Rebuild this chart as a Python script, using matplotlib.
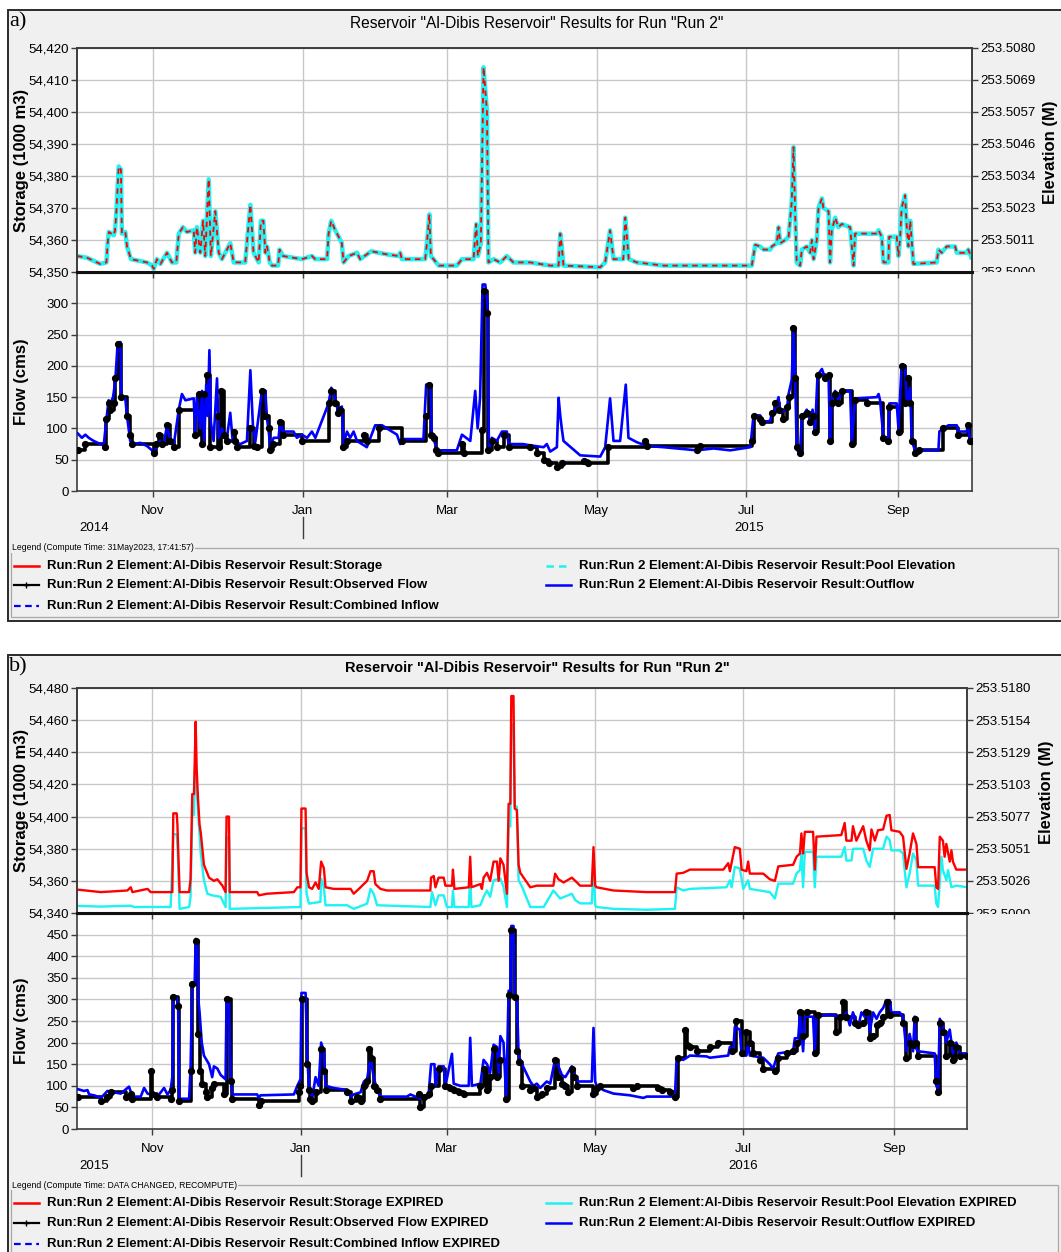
import matplotlib.pyplot as plt
import matplotlib.dates as mdates
import matplotlib.transforms as mtransforms
import numpy as np
from matplotlib import font_manager
from matplotlib.lines import Line2D
from matplotlib.patches import Rectangle

W, H = 1061, 1252
PANEL_BG = "#f0f0f0"
GRID = "#c8c8c8"
SPINE = "#3c3c3c"
RED, CYAN, BLUE = "#ff0000", "#1ef2f2", "#0000ff"

_names = {f.name for f in font_manager.fontManager.ttflist}
LEG_FONT = "Liberation Sans Narrow" if "Liberation Sans Narrow" in _names else "Liberation Sans"
plt.rcParams["font.family"] = "Liberation Sans"

# ---------------------------------------------------------------- panel a
# (days since 2014-10-01, value)
A_STORAGE = [
    (0, 54355), (4, 54354.5), (9.5, 54352.5), (12, 54353), (12.5, 54359), (13, 54362.5), (15, 54361.5),
    (15.5, 54363), (16, 54368), (17, 54383), (17.9, 54382), (18.3, 54362), (19.7, 54362.5), (20.4, 54358),
    (22, 54354), (28.5, 54353), (30.6, 54352), (31.3, 54351), (32.6, 54354), (34, 54352.5), (36.7, 54356),
    (38.7, 54353), (40.5, 54353), (41.5, 54362), (43.2, 54364), (44.8, 54362.5), (47.6, 54363), (48.2, 54356),
    (48.9, 54364), (50.3, 54356), (51.4, 54366), (52.3, 54355), (53.7, 54379), (54.6, 54355), (56.4, 54369),
    (57.8, 54356), (59.1, 54354), (62.5, 54359), (63.9, 54353), (68.6, 54353), (70.7, 54371), (72, 54356),
    (74.1, 54353), (75, 54366), (76, 54366), (76.8, 54356), (77.5, 54358), (78.6, 54353), (79.5, 54352),
    (82, 54352), (82.6, 54357), (84, 54355), (91.7, 54354), (95.8, 54355), (97.2, 54354), (102, 54354),
    (102.6, 54362), (103.7, 54366), (105.3, 54363), (106.7, 54361), (108, 54359), (108.7, 54353), (110.8, 54355),
    (114.2, 54356), (115.5, 54354), (120, 54356.5), (126.4, 54355.5), (131.1, 54355), (131.8, 54356),
    (132.5, 54354), (142, 54354), (142.7, 54359), (143.7, 54368), (144.3, 54355), (145.4, 54354),
    (147.5, 54352), (154.9, 54352), (157, 54354), (161.7, 54354), (162.8, 54365), (163.5, 54355),
    (164.7, 54359), (165.8, 54414), (167.2, 54400), (167.8, 54353), (169.9, 54354), (172.6, 54353),
    (175.3, 54355), (178, 54353), (184.8, 54353), (193, 54352), (196.4, 54352), (197.1, 54362), (197.7, 54358),
    (198.4, 54352), (213.4, 54351.5), (215.4, 54353), (217.4, 54363), (218.8, 54354), (222.8, 54354),
    (223.6, 54367), (225, 54354), (228.3, 54353), (239.2, 54352), (275.2, 54352), (276.6, 54358.5),
    (278.6, 54358), (280, 54357), (282.7, 54357), (283.4, 54358), (285.4, 54359), (286.1, 54364), (286.8, 54359),
    (288.8, 54360), (290.2, 54361), (291.5, 54372), (292.2, 54389), (292.9, 54368), (293.5, 54353),
    (294.9, 54352), (295.6, 54357), (297.6, 54358), (299, 54356), (299.7, 54360), (300.4, 54354), (301.7, 54360),
    (302.4, 54370), (303.8, 54373), (304.4, 54370), (306.5, 54369), (307.1, 54353), (307.8, 54363),
    (309.2, 54367), (310.5, 54364), (311.9, 54365), (315.3, 54364), (316.7, 54352), (317.3, 54362),
    (326.2, 54362), (326.9, 54363), (328.2, 54361), (328.9, 54353), (330.9, 54353), (331.2, 54361),
    (334.3, 54361), (335, 54355), (335.7, 54361), (336.3, 54370), (337.7, 54374), (338.4, 54364), (339.1, 54358),
    (339.8, 54366), (340.4, 54360), (341.1, 54352.5), (350.6, 54353), (351.3, 54357), (352.6, 54356),
    (354.7, 54358), (358.1, 54358), (358.8, 54356), (362.8, 54356), (363.5, 54357), (365, 54354),
]
A_ELEVATION = [
    (0, 253.50057), (4, 253.50051), (9.5, 253.50029), (12, 253.50034), (12.5, 253.50103), (13, 253.50143),
    (15, 253.50131), (15.5, 253.50149), (16, 253.50206), (17, 253.50377), (17.9, 253.50366), (18.3, 253.50137),
    (19.7, 253.50143), (20.4, 253.50091), (22, 253.50046), (28.5, 253.50034), (30.6, 253.50023),
    (31.3, 253.50011), (32.6, 253.50046), (34, 253.50029), (36.7, 253.50069), (38.7, 253.50034),
    (40.5, 253.50034), (41.5, 253.50137), (43.2, 253.50160), (44.8, 253.50143), (47.6, 253.50149),
    (48.2, 253.50069), (48.9, 253.50160), (50.3, 253.50069), (51.4, 253.50183), (52.3, 253.50057),
    (53.7, 253.50331), (54.6, 253.50057), (56.4, 253.50217), (57.8, 253.50069), (59.1, 253.50046),
    (62.5, 253.50103), (63.9, 253.50034), (68.6, 253.50034), (70.7, 253.50240), (72, 253.50069),
    (74.1, 253.50034), (75, 253.50183), (76, 253.50183), (76.8, 253.50069), (77.5, 253.50091), (78.6, 253.50034),
    (79.5, 253.50023), (82, 253.50023), (82.6, 253.50080), (84, 253.50057), (91.7, 253.50046), (95.8, 253.50057),
    (97.2, 253.50046), (102, 253.50046), (102.6, 253.50137), (103.7, 253.50183), (105.3, 253.50149),
    (106.7, 253.50126), (108, 253.50103), (108.7, 253.50034), (110.8, 253.50057), (114.2, 253.50069),
    (115.5, 253.50046), (120, 253.50074), (126.4, 253.50063), (131.1, 253.50057), (131.8, 253.50069),
    (132.5, 253.50046), (142, 253.50046), (142.7, 253.50103), (143.7, 253.50206), (144.3, 253.50057),
    (145.4, 253.50046), (147.5, 253.50023), (154.9, 253.50023), (157, 253.50046), (161.7, 253.50046),
    (162.8, 253.50171), (163.5, 253.50057), (164.7, 253.50103), (165.8, 253.50731), (167.2, 253.50571),
    (167.8, 253.50034), (169.9, 253.50046), (172.6, 253.50034), (175.3, 253.50057), (178, 253.50034),
    (184.8, 253.50034), (193, 253.50023), (196.4, 253.50023), (197.1, 253.50137), (197.7, 253.50091),
    (198.4, 253.50023), (213.4, 253.50017), (215.4, 253.50034), (217.4, 253.50149), (218.8, 253.50046),
    (222.8, 253.50046), (223.6, 253.50194), (225, 253.50046), (228.3, 253.50034), (239.2, 253.50023),
    (275.2, 253.50023), (276.6, 253.50097), (278.6, 253.50091), (280, 253.50080), (282.7, 253.50080),
    (283.4, 253.50091), (285.4, 253.50103), (286.1, 253.50160), (286.8, 253.50103), (288.8, 253.50114),
    (290.2, 253.50126), (291.5, 253.50251), (292.2, 253.50446), (292.9, 253.50206), (293.5, 253.50034),
    (294.9, 253.50023), (295.6, 253.50080), (297.6, 253.50091), (299, 253.50069), (299.7, 253.50114),
    (300.4, 253.50046), (301.7, 253.50114), (302.4, 253.50229), (303.8, 253.50263), (304.4, 253.50229),
    (306.5, 253.50217), (307.1, 253.50034), (307.8, 253.50149), (309.2, 253.50194), (310.5, 253.50160),
    (311.9, 253.50171), (315.3, 253.50160), (316.7, 253.50023), (317.3, 253.50137), (326.2, 253.50137),
    (326.9, 253.50149), (328.2, 253.50126), (328.9, 253.50034), (330.9, 253.50034), (331.2, 253.50126),
    (334.3, 253.50126), (335, 253.50057), (335.7, 253.50126), (336.3, 253.50229), (337.7, 253.50274),
    (338.4, 253.50160), (339.1, 253.50091), (339.8, 253.50183), (340.4, 253.50114), (341.1, 253.50029),
    (350.6, 253.50034), (351.3, 253.50080), (352.6, 253.50069), (354.7, 253.50091), (358.1, 253.50091),
    (358.8, 253.50069), (362.8, 253.50069), (363.5, 253.50080), (365, 253.50046),
]
A_OBSERVED = [
    (0.3, 65), (3.4, 75), (11.6, 70), (12.0, 115), (12.9, 140), (13.6, 130), (14.9, 140), (15.6, 180), (16.6, 235),
    (18.1, 150), (20.4, 120), (21.7, 90), (22.4, 75), (31.3, 60), (32.3, 75), (33.3, 90), (34.7, 75), (36.7, 105),
    (38.1, 80), (39.4, 70), (41.5, 130), (48.2, 90), (49.6, 155), (51.0, 75), (51.9, 155), (53.0, 185), (54.4, 70),
    (57.4, 120), (58.0, 70), (58.7, 160), (59.8, 90), (61.2, 80), (63.9, 95), (64.6, 80), (65.2, 70), (70.7, 100),
    (72.0, 72), (73.4, 70), (75.4, 160), (76.8, 120), (78.2, 100), (78.8, 65), (79.9, 75), (82.9, 110), (84.0, 90),
    (91.7, 80), (102.6, 140), (103.7, 160), (105.1, 140), (106.3, 125), (107.4, 130), (108.5, 70), (110.1, 80),
    (116.9, 90), (118.2, 80), (123.0, 100), (132.5, 80), (142.4, 120), (143.4, 170), (144.3, 90), (145.4, 85),
    (146.5, 65), (147.1, 60), (157.0, 75), (157.7, 60), (165.1, 97), (165.8, 320), (167.2, 285), (167.8, 65),
    (169.2, 80), (171.2, 70), (174.0, 90), (176.0, 70), (184.8, 70), (187.6, 60), (190.3, 50), (192.3, 45),
    (195.7, 38), (197.7, 45), (206.6, 48), (208.6, 45), (216.4, 70), (231.7, 80), (232.4, 72), (252.8, 65),
    (254.1, 72), (275.2, 80), (275.9, 120), (278.6, 115), (279.3, 110), (283.4, 125), (284.7, 140), (286.1, 130),
    (288.1, 115), (289.5, 135), (290.2, 150), (292.2, 260), (292.9, 180), (293.5, 70), (294.9, 60), (295.6, 120),
    (297.6, 125), (299.0, 110), (300.0, 120), (301.0, 95), (302.0, 185), (305.1, 180), (306.5, 185), (306.9, 80),
    (307.8, 140), (309.2, 155), (310.5, 140), (311.9, 160), (316.0, 75), (317.3, 145), (322.0, 140), (328.9, 85),
    (330.9, 80), (331.3, 135), (335.3, 95), (336.3, 200), (337.7, 140), (339.1, 180), (339.8, 140), (340.4, 80),
    (341.8, 60), (343.2, 65), (353.3, 100), (359.4, 90), (363.5, 105), (364.2, 80), (365, 80),
]
A_OUTFLOW = [
    (0.3, 92), (2.0, 85), (3.4, 90), (4.8, 85), (6.8, 80), (9.5, 75), (10.9, 73), (12.0, 115), (12.9, 145),
    (13.6, 140), (14.7, 150), (15.6, 175), (16.6, 237), (17.7, 238), (18.1, 150), (19.7, 148), (20.4, 120),
    (21.7, 80), (23.1, 75), (25.8, 77), (28.5, 72), (30.6, 65), (31.3, 58), (32.6, 75), (34.0, 80), (35.3, 72),
    (36.7, 105), (38.1, 80), (39.4, 72), (41.5, 130), (42.8, 155), (44.2, 145), (47.6, 148), (48.2, 95),
    (48.9, 150), (50.3, 100), (51.0, 160), (51.9, 80), (52.7, 170), (53.3, 120), (54.0, 225), (54.6, 110),
    (55.7, 80), (57.1, 180), (57.8, 85), (59.1, 100), (60.9, 78), (62.5, 125), (63.5, 80), (66.6, 75), (69.3, 80),
    (70.7, 193), (71.8, 100), (72.7, 78), (75.4, 160), (76.8, 160), (77.5, 115), (78.2, 95), (78.8, 72),
    (80.2, 85), (82.2, 85), (82.9, 112), (84.0, 95), (88.3, 95), (89.7, 85), (91.7, 90), (93.8, 85), (95.8, 95),
    (97.2, 85), (102.6, 140), (103.7, 165), (105.1, 150), (106.3, 130), (108.0, 135), (108.7, 75), (110.1, 95),
    (111.4, 85), (112.8, 95), (114.2, 80), (118.2, 70), (121.6, 105), (124.4, 105), (126.4, 100), (130.5, 90),
    (131.8, 75), (132.5, 83), (141.3, 83), (142.4, 170), (144.1, 172), (144.7, 90), (146.1, 75), (147.1, 65),
    (154.9, 65), (157.0, 90), (160.4, 80), (162.4, 160), (163.4, 100), (164.4, 150), (165.4, 330), (166.5, 330),
    (167.4, 300), (168.0, 65), (169.2, 85), (171.2, 80), (173.3, 95), (175.3, 95), (176.0, 75), (181.8, 75),
    (184.8, 73), (190.3, 70), (191.6, 75), (193.0, 63), (195.7, 70), (196.4, 149), (197.1, 120), (197.7, 100),
    (198.4, 80), (205.2, 57), (213.4, 55), (215.4, 70), (217.4, 148), (218.8, 80), (221.5, 80), (223.8, 170),
    (224.9, 85), (228.3, 78), (232.4, 72), (239.2, 70), (252.8, 65), (259.6, 68), (266.4, 65), (274.6, 70),
    (275.9, 121), (278.6, 120), (279.3, 110), (282.7, 112), (283.4, 125), (284.7, 130), (286.1, 150), (286.8, 125),
    (289.5, 130), (290.2, 155), (291.5, 178), (292.2, 260), (292.9, 180), (293.5, 68), (294.2, 62), (294.9, 62),
    (295.6, 120), (296.9, 125), (297.6, 130), (299.0, 115), (300.0, 130), (301.0, 95), (302.0, 185), (303.8, 195),
    (305.1, 180), (306.5, 185), (307.1, 80), (307.8, 145), (309.2, 160), (310.5, 145), (311.9, 160), (315.3, 160),
    (316.0, 75), (317.3, 148), (326.2, 150), (326.9, 155), (327.5, 145), (328.9, 85), (330.9, 85), (331.3, 140),
    (334.3, 140), (335.0, 100), (336.3, 200), (337.7, 200), (338.4, 140), (339.8, 165), (340.4, 80), (341.8, 65),
    (351.3, 65), (351.7, 95), (353.3, 100), (355.4, 105), (358.8, 105), (359.4, 95), (362.8, 95), (363.5, 105),
    (364.2, 80), (365, 80),
]

# ---------------------------------------------------------------- panel b
# (days since 2015-10-01, value)
B_STORAGE = [
    (0.5, 54354.5), (9.8, 54353), (20.7, 54354), (22.1, 54356), (22.8, 54353), (29.0, 54355), (30.3, 54353),
    (39.2, 54353), (39.6, 54402), (41.0, 54402), (41.3, 54395), (41.6, 54380), (42.2, 54353), (46.1, 54353),
    (46.7, 54361), (47.4, 54414), (48.1, 54414), (48.8, 54459), (49.2, 54430), (49.8, 54410), (50.4, 54395),
    (50.9, 54390), (52.2, 54370), (54.3, 54362), (56.3, 54360), (57.7, 54361), (59.8, 54357), (61.1, 54353),
    (61.5, 54400), (62.5, 54400), (62.8, 54353), (74.1, 54353), (74.8, 54351), (78.2, 54352), (89.2, 54353),
    (90.6, 54356), (91.9, 54356), (92.3, 54405), (94.0, 54405), (94.4, 54365), (95.4, 54356), (96.7, 54355),
    (98.1, 54359), (99.4, 54355), (100.4, 54372), (101.5, 54368), (102.2, 54356), (105.6, 54355), (112.5, 54355),
    (113.8, 54352), (116.6, 54356), (119.3, 54360), (120.7, 54366), (122.0, 54366), (122.7, 54358),
    (124.8, 54355), (127.5, 54354), (145.3, 54354), (145.6, 54362), (146.7, 54363), (147.4, 54356),
    (148.7, 54362), (150.8, 54362), (151.5, 54357), (154.2, 54357), (154.6, 54367), (155.2, 54355),
    (161.1, 54356), (161.7, 54375), (162.2, 54356), (165.9, 54358), (166.5, 54355), (167.2, 54362),
    (168.6, 54365), (169.9, 54360), (171.3, 54372), (172.7, 54372), (173.4, 54360), (174.1, 54374),
    (175.4, 54370), (176.8, 54352), (177.5, 54408), (178.2, 54408), (178.6, 54475), (179.5, 54475),
    (180.0, 54405), (180.9, 54404), (181.6, 54370), (182.3, 54365), (186.4, 54356), (189.1, 54357),
    (195.9, 54357), (196.6, 54364.5), (198.0, 54361), (200.1, 54359), (203.5, 54362), (205.6, 54359),
    (206.9, 54357), (211.7, 54357), (212.4, 54381), (213.1, 54357), (213.7, 54356), (220.6, 54354),
    (234.3, 54353), (245.9, 54353), (246.6, 54364.5), (249.3, 54365), (252.1, 54367), (265.8, 54367),
    (267.8, 54371), (268.5, 54366), (270.5, 54381), (272.6, 54380), (273.3, 54367), (275.3, 54366),
    (276.0, 54372), (276.7, 54364.5), (282.2, 54364.5), (284.9, 54361), (287.0, 54360), (288.4, 54369),
    (294.5, 54370), (295.9, 54375), (297.3, 54377), (297.9, 54389.5), (298.6, 54377), (299.3, 54390.5),
    (302.7, 54390.5), (303.4, 54367), (304.1, 54387.5), (314.3, 54388.5), (315.7, 54396), (316.4, 54385),
    (318.5, 54385), (319.1, 54394), (320.5, 54385), (323.3, 54394), (324.6, 54385), (326.0, 54379),
    (326.7, 54392), (328.1, 54385), (329.4, 54391.5), (331.5, 54392), (332.9, 54400.5), (334.2, 54401),
    (334.9, 54391.5), (338.3, 54390.5), (339.7, 54387.5), (341.1, 54367.5), (342.4, 54377), (343.8, 54389.5),
    (345.2, 54383), (345.9, 54368.5), (352.7, 54368.5), (353.4, 54356), (354.1, 54355), (354.8, 54387.5),
    (356.1, 54385), (356.8, 54375), (357.5, 54383), (358.9, 54372), (359.6, 54379), (360.2, 54372),
    (361.6, 54367), (366, 54367),
]
B_ELEVATION = [
    (0.5, 253.50057), (9.8, 253.50051), (20.7, 253.50058), (22.1, 253.50058), (23.5, 253.50048),
    (38.5, 253.50048), (39.6, 253.50630), (41.0, 253.50630), (41.3, 253.50553), (42.2, 253.50033),
    (46.1, 253.50048), (46.7, 253.50129), (47.4, 253.50784), (48.1, 253.50784), (48.8, 253.51320),
    (49.2, 253.51012), (49.8, 253.50797), (50.9, 253.50476), (52.2, 253.50262), (53.6, 253.50154),
    (55.6, 253.50141), (59.1, 253.50129), (61.1, 253.50048), (61.5, 253.50604), (62.5, 253.50604),
    (62.8, 253.50033), (91.9, 253.50048), (92.3, 253.50678), (94.0, 253.50678), (94.4, 253.50154),
    (95.4, 253.50075), (100.1, 253.50089), (100.4, 253.50276), (101.5, 253.50210), (102.2, 253.50062),
    (111.1, 253.50062), (113.8, 253.50033), (119.3, 253.50075), (120.7, 253.50193), (122.0, 253.50154),
    (123.4, 253.50062), (145.3, 253.50048), (146.0, 253.50167), (147.4, 253.50062), (148.7, 253.50141),
    (150.8, 253.50141), (152.1, 253.50048), (154.2, 253.50048), (154.6, 253.50180), (155.2, 253.50048),
    (161.1, 253.50048), (161.7, 253.50296), (162.2, 253.50048), (165.9, 253.50062), (167.2, 253.50129),
    (168.6, 253.50180), (169.9, 253.50129), (171.3, 253.50262), (174.1, 253.50276), (175.4, 253.50210),
    (176.8, 253.50048), (177.5, 253.50692), (178.2, 253.50692), (178.6, 253.51508), (179.5, 253.51508),
    (180.0, 253.50861), (180.9, 253.50849), (181.6, 253.50262), (183.0, 253.50210), (186.4, 253.50048),
    (191.9, 253.50048), (195.9, 253.50180), (198.7, 253.50116), (203.5, 253.50154), (204.9, 253.50103),
    (206.9, 253.50077), (211.7, 253.50077), (212.4, 253.50369), (213.1, 253.50062), (213.7, 253.50048),
    (220.6, 253.50033), (234.3, 253.50026), (245.9, 253.50033), (246.6, 253.50206), (249.3, 253.50180),
    (252.1, 253.50193), (267.1, 253.50206), (268.5, 253.50262), (269.2, 253.50206), (270.5, 253.50369),
    (272.6, 253.50356), (274.0, 253.50193), (276.0, 253.50262), (276.7, 253.50193), (284.9, 253.50167),
    (287.0, 253.50116), (288.4, 253.50235), (294.5, 253.50235), (295.9, 253.50316), (297.3, 253.50343),
    (297.9, 253.50476), (298.6, 253.50206), (299.3, 253.50489), (302.7, 253.50489), (303.4, 253.50206),
    (304.1, 253.50450), (314.3, 253.50450), (315.7, 253.50527), (316.4, 253.50420), (318.5, 253.50420),
    (319.1, 253.50514), (323.3, 253.50514), (324.6, 253.50420), (326.0, 253.50369), (327.4, 253.50514),
    (331.5, 253.50514), (332.9, 253.50611), (334.2, 253.50584), (334.9, 253.50501), (338.3, 253.50501),
    (339.7, 253.50476), (341.1, 253.50206), (342.4, 253.50316), (343.8, 253.50476), (345.2, 253.50420),
    (345.9, 253.50219), (352.7, 253.50219), (353.4, 253.50075), (354.1, 253.50048), (355.5, 253.50450),
    (356.1, 253.50343), (357.5, 253.50262), (358.2, 253.50343), (359.6, 253.50206), (361.6, 253.50219),
    (366, 253.50206),
]
B_OBSERVED = [
    (0.5, 75), (9.8, 65), (12.5, 75), (13.9, 85), (20.1, 75), (22.1, 80), (22.8, 70), (30.3, 135), (31.0, 80),
    (33.1, 75), (38.5, 70), (39.2, 90), (39.6, 305), (41.6, 285), (42.0, 65), (46.7, 135), (47.4, 335),
    (48.8, 435), (49.9, 220), (50.6, 135), (51.5, 105), (52.9, 85), (53.6, 75), (55.6, 95), (56.3, 105),
    (60.4, 80), (61.5, 300), (63.2, 110), (63.9, 70), (74.8, 55), (75.5, 65), (91.3, 85), (91.9, 100),
    (92.6, 300), (94.7, 150), (95.4, 90), (96.0, 70), (96.7, 65), (98.1, 85), (100.4, 185), (101.5, 135),
    (102.2, 90), (111.1, 85), (112.5, 65), (115.2, 75), (116.6, 65), (118.0, 100), (119.3, 110), (120.0, 185),
    (121.0, 165), (122.0, 100), (123.4, 90), (124.8, 70), (140.5, 80), (141.2, 50), (142.6, 75), (144.6, 80),
    (145.6, 100), (148.7, 140), (151.5, 100), (153.5, 95), (154.9, 90), (156.9, 85), (159.0, 80), (165.9, 100),
    (167.2, 140), (168.6, 90), (169.9, 120), (171.3, 185), (172.7, 120), (174.1, 160), (176.5, 70), (177.5, 310),
    (178.6, 460), (180.0, 305), (180.9, 180), (181.6, 155), (183.0, 100), (186.4, 90), (187.7, 95), (189.1, 75),
    (191.2, 80), (193.2, 95), (196.6, 160), (198.0, 120), (199.4, 105), (200.8, 100), (202.1, 85), (203.5, 140),
    (204.2, 120), (205.6, 100), (212.4, 80), (213.7, 95), (215.1, 100), (228.8, 95), (230.2, 100), (239.1, 95),
    (240.4, 90), (243.9, 85), (245.9, 75), (247.3, 165), (250.0, 230), (250.7, 195), (252.1, 190), (254.8, 180),
    (260.3, 190), (263.7, 200), (269.2, 180), (271.2, 250), (273.3, 175), (275.3, 225), (276.7, 200),
    (278.1, 175), (280.8, 160), (282.2, 140), (287.0, 135), (288.4, 165), (291.8, 175), (294.5, 180),
    (295.9, 200), (297.3, 270), (298.6, 215), (300.0, 270), (303.4, 175), (304.8, 265), (312.3, 225),
    (313.7, 260), (315.0, 295), (316.4, 260), (319.8, 245), (321.2, 240), (323.3, 245), (324.6, 270),
    (326.0, 210), (327.4, 215), (328.8, 240), (330.1, 245), (331.5, 260), (332.9, 295), (334.2, 265),
    (339.7, 245), (341.1, 165), (342.4, 200), (343.8, 195), (344.5, 255), (345.2, 200), (345.9, 170),
    (353.4, 110), (354.1, 85), (354.8, 245), (356.1, 225), (357.5, 170), (358.9, 200), (360.2, 160),
    (361.6, 190), (363.0, 170), (366, 170),
]
B_OUTFLOW = [
    (0.5, 92), (2.9, 88), (4.3, 90), (5.0, 80), (7.0, 78), (9.8, 72), (11.2, 80), (12.5, 88), (15.3, 85),
    (18.0, 82), (21.4, 98), (22.8, 75), (26.2, 75), (27.6, 95), (29.0, 82), (30.3, 80), (33.1, 75), (35.8, 95),
    (37.2, 80), (38.5, 90), (39.2, 120), (39.6, 305), (41.0, 305), (41.6, 280), (42.0, 70), (46.1, 70),
    (46.7, 140), (47.4, 335), (48.4, 335), (48.8, 440), (49.5, 430), (49.9, 300), (50.4, 270), (51.3, 200),
    (52.2, 170), (54.3, 150), (55.6, 120), (56.3, 145), (57.7, 140), (59.1, 125), (61.1, 115), (61.5, 300),
    (62.5, 300), (63.2, 115), (63.9, 80), (74.1, 80), (74.8, 72), (75.5, 78), (89.2, 80), (90.6, 100),
    (91.9, 115), (92.3, 315), (94.0, 315), (94.7, 165), (95.4, 100), (96.0, 85), (96.7, 70), (98.1, 120),
    (99.4, 100), (100.4, 200), (101.5, 180), (102.2, 100), (105.6, 95), (111.1, 90), (112.5, 75), (113.8, 80),
    (116.6, 85), (118.0, 110), (119.3, 115), (120.7, 165), (122.0, 120), (123.4, 90), (124.8, 75), (135.7, 75),
    (137.1, 80), (141.2, 70), (144.6, 80), (145.6, 150), (147.0, 150), (147.4, 100), (148.7, 145), (150.8, 145),
    (151.5, 100), (154.2, 174), (154.9, 105), (157.6, 100), (161.1, 100), (161.7, 211), (162.4, 100),
    (165.9, 105), (167.2, 160), (168.6, 150), (169.9, 130), (171.3, 195), (172.7, 190), (173.4, 130),
    (174.1, 215), (175.4, 200), (176.5, 70), (177.5, 320), (178.2, 320), (178.6, 470), (179.5, 470),
    (180.0, 310), (180.9, 305), (181.6, 170), (183.0, 150), (186.4, 110), (187.7, 100), (189.1, 105),
    (190.5, 95), (193.2, 110), (194.6, 105), (196.6, 161), (198.0, 145), (199.4, 125), (200.8, 120),
    (203.5, 145), (204.9, 120), (206.2, 110), (211.7, 110), (212.4, 234), (213.1, 110), (213.7, 100),
    (216.5, 90), (220.6, 82), (227.4, 78), (232.9, 72), (234.3, 75), (245.9, 75), (246.6, 166), (249.3, 160),
    (252.1, 170), (258.9, 168), (260.3, 165), (267.8, 170), (268.5, 190), (269.9, 180), (270.5, 236),
    (272.6, 230), (273.3, 170), (275.3, 170), (276.0, 200), (276.7, 170), (282.2, 165), (284.9, 150),
    (286.3, 140), (287.7, 165), (288.4, 175), (294.5, 180), (295.2, 210), (296.6, 210), (297.3, 265),
    (298.6, 180), (299.3, 260), (302.7, 260), (303.4, 175), (304.1, 260), (309.6, 265), (314.3, 260),
    (315.0, 255), (316.4, 270), (317.8, 240), (319.1, 270), (321.2, 235), (322.6, 270), (323.9, 260),
    (325.3, 270), (326.0, 225), (327.4, 270), (328.8, 255), (330.1, 270), (331.5, 280), (332.9, 298),
    (334.2, 298), (334.9, 270), (338.3, 270), (339.7, 260), (341.1, 180), (342.4, 220), (343.8, 180),
    (344.5, 260), (345.2, 185), (345.9, 180), (352.7, 175), (353.4, 100), (354.1, 90), (354.8, 255),
    (356.1, 240), (357.5, 200), (358.9, 230), (360.2, 175), (361.6, 200), (363.0, 175), (365.8, 175),
]

TITLE = 'Reservoir "Al-Dibis Reservoir" Results for Run "Run 2"'
LEGEND_LABELS = [
    "Run:Run 2 Element:Al-Dibis Reservoir Result:Storage",
    "Run:Run 2 Element:Al-Dibis Reservoir Result:Pool Elevation",
    "Run:Run 2 Element:Al-Dibis Reservoir Result:Observed Flow",
    "Run:Run 2 Element:Al-Dibis Reservoir Result:Outflow",
    "Run:Run 2 Element:Al-Dibis Reservoir Result:Combined Inflow",
]


def when(start, pairs):
    days = np.array([p[0] for p in pairs], dtype=float)
    vals = np.array([p[1] for p in pairs], dtype=float)
    t = np.datetime64(start, "m") + np.round(days * 1440).astype("timedelta64[m]")
    return t, vals


def box(l, t, r, b):
    return [l / W, 1 - b / H, (r - l) / W, (b - t) / H]


def fx(x):
    return x / W


def fy(y):
    return 1 - y / H


def style_axis(ax):
    for sp in ax.spines.values():
        sp.set_color(SPINE)
        sp.set_linewidth(1.2)
    ax.tick_params(direction="out", length=4, width=1, color=SPINE, labelsize=9.5, pad=2)


def draw_panel(fig, cfg, storage, elevation, observed, outflow):
    top, bottom = cfg["frame"]
    fig.add_artist(Rectangle((fx(8), fy(bottom)), fx(1070 - 8), (bottom - top) / H,
                             transform=fig.transFigure, fc=PANEL_BG, ec="#2a2a2a", lw=1.4, zorder=-2))
    fig.text(fx(9), fy(top + 12), cfg["letter"], family="Liberation Serif", fontsize=16,
             ha="left", va="center")
    fig.text(fx(537), fy(top + 13), TITLE, ha="center", va="center",
             fontsize=cfg["title_size"], weight=cfg["title_weight"])

    ax_s = fig.add_axes(box(*cfg["stor_box"]))
    ax_f = fig.add_axes(box(*cfg["flow_box"]), sharex=ax_s)
    ax_e = ax_s.twinx()
    ax_s.set_zorder(ax_e.get_zorder() + 1)
    ax_s.patch.set_visible(False)
    ax_e.patch.set_visible(True)
    ax_e.patch.set_facecolor("white")

    t0, t1 = np.datetime64(cfg["start"]), np.datetime64(cfg["end"])

    ts, vs = when(cfg["start"], storage)
    te, ve = when(cfg["start"], elevation)
    if cfg["overlay"]:
        ax_e.plot(te, ve, color=CYAN, lw=3.2, solid_capstyle="butt")
        ax_s.plot(ts, vs, color=RED, lw=1.3, dashes=(3, 2.5))
    else:
        ax_e.plot(te, ve, color=CYAN, lw=1.7)
        ax_s.plot(ts, vs, color=RED, lw=1.7)

    ax_s.set_ylim(*cfg["stor_lim"])
    ax_s.set_yticks(cfg["stor_ticks"])
    ax_s.set_yticklabels([f"{v:,}" for v in cfg["stor_ticks"]])
    ax_e.set_ylim(*cfg["elev_lim"])
    eticks = np.linspace(cfg["elev_lim"][0], cfg["elev_lim"][1], len(cfg["stor_ticks"]))
    ax_e.set_yticks(eticks)
    ax_e.set_yticklabels([f"{v:.4f}" for v in eticks])

    # grid lives on the elevation axes so the curves sit above it
    ax_e.xaxis.set_visible(True)
    ax_e.tick_params(axis="x", which="both", bottom=False, top=False, labelbottom=False, labeltop=False)
    ax_e.grid(True, color=GRID, lw=1.0)

    to, vo = when(cfg["start"], observed)
    tq, vq = when(cfg["start"], outflow)
    ax_f.plot(to, vo, color="black", lw=2.6, drawstyle="steps-post", zorder=2)
    ax_f.plot(tq, vq, color=BLUE, lw=1.9, zorder=3)
    ax_f.plot(to, vo, ls="none", marker="o", ms=4.2, color="black", zorder=4)
    ax_f.set_ylim(0, cfg["flow_top"])
    ax_f.set_yticks(np.arange(0, cfg["flow_top"], 50))
    ax_f.grid(True, color=GRID, lw=1.0)
    ax_f.set_axisbelow(True)

    ax_f.set_xlim(t0, t1)
    ax_f.xaxis.set_major_locator(mdates.MonthLocator(bymonth=[1, 3, 5, 7, 9, 11]))
    ax_f.xaxis.set_major_formatter(mdates.DateFormatter("%b"))
    ax_s.tick_params(axis="x", labelbottom=False, length=0)

    for ax in (ax_s, ax_e, ax_f):
        style_axis(ax)
    ax_f.tick_params(axis="x", pad=6)
    ax_s.spines["bottom"].set_color("#111111")
    ax_s.spines["bottom"].set_linewidth(2.2)
    ax_f.spines["top"].set_color("#111111")
    ax_f.spines["top"].set_linewidth(2.2)

    # axis titles
    s_mid = (cfg["stor_box"][1] + cfg["stor_box"][3]) / 2
    f_mid = (cfg["flow_box"][1] + cfg["flow_box"][3]) / 2
    lab = dict(rotation=90, ha="center", va="center", fontsize=12, weight="bold")
    fig.text(fx(22), fy(s_mid), "Storage (1000 m3)", **lab)
    fig.text(fx(22), fy(f_mid), "Flow (cms)", **lab)
    fig.text(fx(cfg["elev_label_x"]), fy(s_mid - 8), "Elevation (M)", **lab)

    # hide lower half of the last elevation label, as in the source screenshot
    sb = cfg["stor_box"][3]
    fig.add_artist(Rectangle((fx(cfg["stor_box"][2] + 2), fy(sb + 14)), fx(70), 13.5 / H,
                             transform=fig.transFigure, fc=PANEL_BG, ec="none", zorder=5))

    # year row
    trans = mtransforms.blended_transform_factory(ax_f.transData, fig.transFigure)
    y_year = cfg["flow_box"][3] + 37
    fig.text(fx(cfg["flow_box"][0] + 2), fy(y_year), cfg["years"][0], ha="left", va="center", fontsize=9.5)
    jul = mdates.date2num(np.datetime64(cfg["years_mid"]))
    ax_f.text(jul, fy(y_year), cfg["years"][1], transform=trans, ha="center", va="center", fontsize=9.5)
    jan = mdates.date2num(np.datetime64(cfg["jan"]))
    ax_f.add_line(Line2D([jan, jan], [fy(y_year - 11), fy(y_year + 10)], transform=trans,
                         color=SPINE, lw=1.0, clip_on=False))

    # legend block
    lt = cfg["legend_top"]
    fig.add_artist(Rectangle((fx(11), fy(cfg["legend_bottom"])), fx(1058 - 11),
                             (cfg["legend_bottom"] - lt) / H, transform=fig.transFigure,
                             fc="none", ec="#a8a8a8", lw=0.9, zorder=-1))
    fig.text(fx(12), fy(lt), cfg["legend_title"], family=LEG_FONT, fontsize=6.25, ha="left", va="center",
             bbox=dict(fc=PANEL_BG, ec="none", pad=0.6))
    rows = cfg["legend_rows"]
    sfx = cfg["suffix"]
    entries = [
        (14, rows[0], dict(color=RED, lw=1.8), LEGEND_LABELS[0]),
        (546, rows[0], dict(color=CYAN, lw=1.8, ls=(0, (3, 2)) if cfg["overlay"] else "-"), LEGEND_LABELS[1]),
        (14, rows[1], dict(color="black", lw=1.6, marker="+", ms=5, markevery=[1]), LEGEND_LABELS[2]),
        (546, rows[1], dict(color=BLUE, lw=1.8), LEGEND_LABELS[3]),
        (14, rows[2], dict(color=BLUE, lw=1.6, ls=(0, (3, 2))), LEGEND_LABELS[4]),
    ]
    for x0, y, kw, text in entries:
        fig.add_artist(Line2D([fx(x0), fx(x0 + 12), fx(x0 + 25)], [fy(y)] * 3,
                              transform=fig.transFigure, **kw))
        fig.text(fx(x0 + 33), fy(y), text + sfx, family=LEG_FONT, weight="bold", fontsize=9.45,
                 ha="left", va="center")


fig = plt.figure(figsize=(W / 100, H / 100), dpi=100, facecolor="white")

draw_panel(fig, dict(
    letter="a)", frame=(10, 621), title_size=11.2, title_weight="normal",
    start="2014-10-01", end="2015-10-01", jan="2015-01-01", years=("2014", "2015"), years_mid="2015-07-02",
    stor_box=(77, 48, 972, 272), flow_box=(77, 272, 972, 491),
    stor_lim=(54350, 54420), stor_ticks=list(range(54350, 54421, 10)), elev_lim=(253.5, 253.508),
    flow_top=350, overlay=True, elev_label_x=1050,
    legend_top=548, legend_bottom=617, legend_rows=(566, 585, 606), suffix="",
    legend_title="Legend (Compute Time: 31May2023, 17:41:57)",
), A_STORAGE, A_ELEVATION, A_OBSERVED, A_OUTFLOW)

draw_panel(fig, dict(
    letter="b)", frame=(655, 1262), title_size=10.5, title_weight="bold",
    start="2015-10-01", end="2016-10-01", jan="2016-01-01", years=("2015", "2016"), years_mid="2016-07-01",
    stor_box=(77, 688, 967, 913), flow_box=(77, 913, 967, 1129),
    stor_lim=(54340, 54480), stor_ticks=list(range(54340, 54481, 20)), elev_lim=(253.5, 253.518),
    flow_top=500, overlay=False, elev_label_x=1047,
    legend_top=1185, legend_bottom=1262, legend_rows=(1203, 1223, 1244), suffix=" EXPIRED",
    legend_title="Legend (Compute Time: DATA CHANGED, RECOMPUTE)",
), B_STORAGE, B_ELEVATION, B_OBSERVED, B_OUTFLOW)

fig.savefig("out.png", dpi=100, facecolor="white")
